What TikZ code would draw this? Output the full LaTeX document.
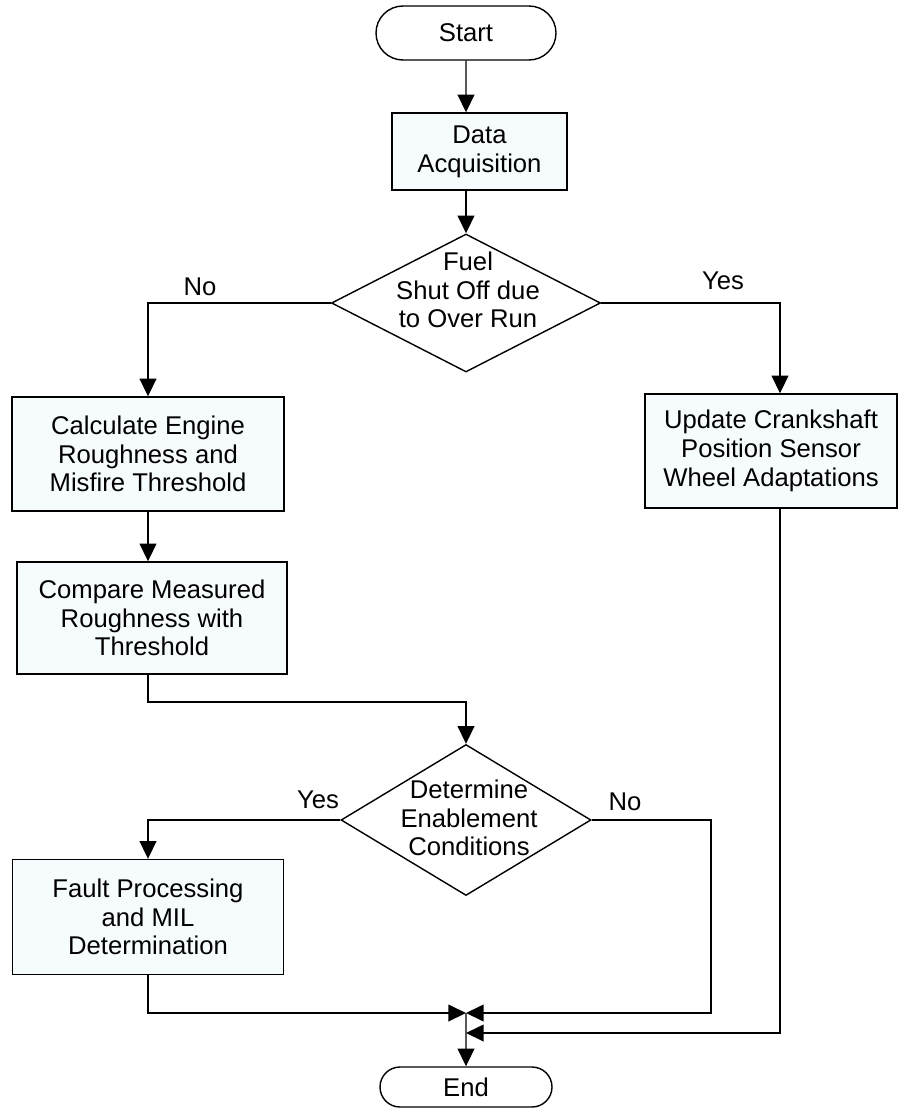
\documentclass[tikz,border=0pt]{standalone}
\usepackage{fontspec}
\setmainfont{Liberation Sans}
\usetikzlibrary{positioning,shapes.geometric,shapes.misc,arrows.meta}

\definecolor{boxfill}{RGB}{246,251,253}
\def\u{0.02cm}

\tikzset{
  box/.style={draw, fill=boxfill, line width=0.8pt, align=center, inner sep=0pt},
  term/.style={draw, rounded rectangle, fill=white, line width=0.8pt, inner sep=0pt},
  decision/.style={draw, diamond, fill=white, line width=0.8pt, inner sep=0pt},
  arr/.style={-{Triangle[length=10pt,width=9.5pt]}, line width=0.8pt},
  lbl/.style={align=center, inner sep=0pt}
}

\begin{document}
\begin{tikzpicture}[x=0.02cm, y=-0.02cm, font=\fontsize{14.6pt}{16.4pt}\selectfont]
\useasboundingbox (0,0) rectangle (898,1108);

\def\xa{148}
\def\xb{466}
\def\xc{711}
\def\xd{780}

\node[term, minimum width=180*\u, minimum height=54*\u] (start) at (\xb, 33) {Start};
\node[box, minimum width=175*\u, minimum height=77*\u] (data) at (479.5, 151.5) {Data\\Acquisition};
\node[decision, minimum width=269*\u, minimum height=138*\u] (fuel) at (\xb, 303) {};
\node[lbl] (fueltxt) at (468, 290) {Fuel\\Shut Off due\\to Over Run};
\node[box, minimum width=272*\u, minimum height=114*\u] (calc) at (\xa, 454) {Calculate Engine\\Roughness and\\Misfire Threshold};
\node[box, minimum width=252*\u, minimum height=114*\u] (update) at (771, 451) {Update Crankshaft\\Position Sensor\\Wheel Adaptations};
\node[box, minimum width=270*\u, minimum height=112*\u] (compare) at (152, 618) {Compare Measured\\Roughness with\\Threshold};
\node[decision, minimum width=250*\u, minimum height=151*\u] (cond) at (\xb, 820) {};
\node[lbl] (condtxt) at (469, 818) {Determine\\Enablement\\Conditions};
\node[box, minimum width=271*\u, minimum height=115*\u] (fault) at (\xa, 917) {Fault Processing\\and MIL\\Determination};
\node[term, minimum width=172*\u, minimum height=40*\u] (end) at (\xb, 1087) {End};

% branch labels
\node[lbl] (no1) at (200, 287) {No};
\node[lbl] (yes1) at (723, 281) {Yes};
\node[lbl] (yes2) at (318, 800) {Yes};
\node[lbl] (no2) at (625, 802) {No};

\coordinate (m1) at (\xb, 1013);
\coordinate (m2) at (\xb, 1033);
\coordinate (nc) at (\xc, 1013);
\coordinate (uc) at (\xd, 0);
\coordinate (bend) at (\xa, 702);

\draw[arr] (start) -- (start |- data.north);
\draw[arr] (start |- data.south) -- (fuel.north);
\draw[arr] (fuel.west) -| (calc.north);
\draw[arr] (fuel.east) -| (uc |- update.north);
\draw[arr] (calc) -- (calc |- compare.north);
\draw[arr] (calc |- compare.south) -- (bend) -| (cond.north);
\draw[arr] (cond.west) -| (fault.north);
\draw[arr] (cond.east) -| (nc) -- (m1);
\draw[arr] (fault) |- (m1);
\draw[arr] (uc |- update.south) |- (m2);
\draw[arr] (m1) -- (end);

\end{tikzpicture}
\end{document}
